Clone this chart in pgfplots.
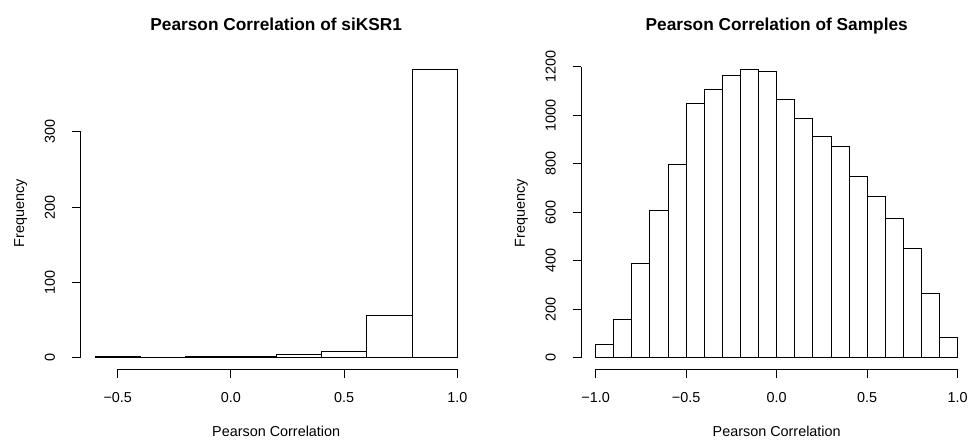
\documentclass[border=0pt]{standalone}
\usepackage{fontspec}
\setmainfont{Liberation Sans}
\usepackage{pgfplots}
\pgfplotsset{compat=1.18}

% R base-graphics look: detached axis lines, outward ticks, rotated y labels
\pgfplotsset{
  rhist/.style={
    scale only axis,
    anchor=south west,
    height=311.4pt,
    axis line style={draw=none},
    tick pos=left,
    tick align=outside,
    major tick length=8.6pt,
    every tick/.style={black, line width=1pt},
    tick label style={font=\fontsize{14.4}{17}\selectfont},
    label style={font=\fontsize{14.4}{17}\selectfont},
    xticklabel style={anchor=base},
    xticklabel shift=25pt,
    yticklabel style={rotate=90, anchor=base},
    yticklabel shift=17pt,
    xlabel={Pearson Correlation},
    ylabel={Frequency},
    xlabel style={at={(axis description cs:0.5,-0.198)}, anchor=center},
    ylabel style={at={(axis description cs:-0.153,0.5)}, anchor=center, rotate=0},
    title style={at={(axis description cs:0.5,1.069)}, anchor=base,
      font=\bfseries\fontsize{17.28}{20}\selectfont},
    clip=false,
  },
  rbar/.style={ybar interval, draw=black, fill=white, line width=1pt},
}

\begin{document}
\begin{tikzpicture}
\path (0,0) rectangle (973pt,440pt);

\begin{axis}[rhist,
  at={(80.6pt,70.8pt)}, width=391.2pt,
  title={Pearson Correlation of siKSR1},
  xmin=-0.664, xmax=1.064,
  ymin=-15.32, ymax=398.32,
  xtick={-0.5,0,0.5,1}, xticklabels={−0.5,0.0,0.5,1.0},
  ytick={0,100,200,300}, yticklabels={0,100,200,300},
]
\addplot[rbar] coordinates {
  (-0.6,1) (-0.4,0) (-0.2,2) (0.0,2) (0.2,4) (0.4,8) (0.6,56) (0.8,383) (1.0,383)};
\draw[line width=1pt] (axis cs:-0.5,-15.32) -- (axis cs:1.0,-15.32);
\draw[line width=1pt] (axis cs:-0.664,0) -- (axis cs:-0.664,300);
\end{axis}

\begin{axis}[rhist,
  at={(581.2pt,70.8pt)}, width=391pt,
  title={Pearson Correlation of Samples},
  xmin=-1.08, xmax=1.08,
  ymin=-47.6, ymax=1237.6,
  xtick={-1,-0.5,0,0.5,1}, xticklabels={−1.0,−0.5,0.0,0.5,1.0},
  ytick={0,200,400,600,800,1000,1200},
  yticklabels={0,200,400,600,800,1000,1200},
]
\addplot[rbar] coordinates {
  (-1.0,54) (-0.9,157) (-0.8,389) (-0.7,606) (-0.6,799)
  (-0.5,1050) (-0.4,1106) (-0.3,1164) (-0.2,1189) (-0.1,1183)
  (0.0,1067) (0.1,988) (0.2,911) (0.3,873) (0.4,749)
  (0.5,665) (0.6,573) (0.7,451) (0.8,265) (0.9,84) (1.0,84)};
\draw[line width=1pt] (axis cs:-1,-47.6) -- (axis cs:1,-47.6);
\draw[line width=1pt] (axis cs:-1.08,0) -- (axis cs:-1.08,1200);
\end{axis}
\end{tikzpicture}
\end{document}
